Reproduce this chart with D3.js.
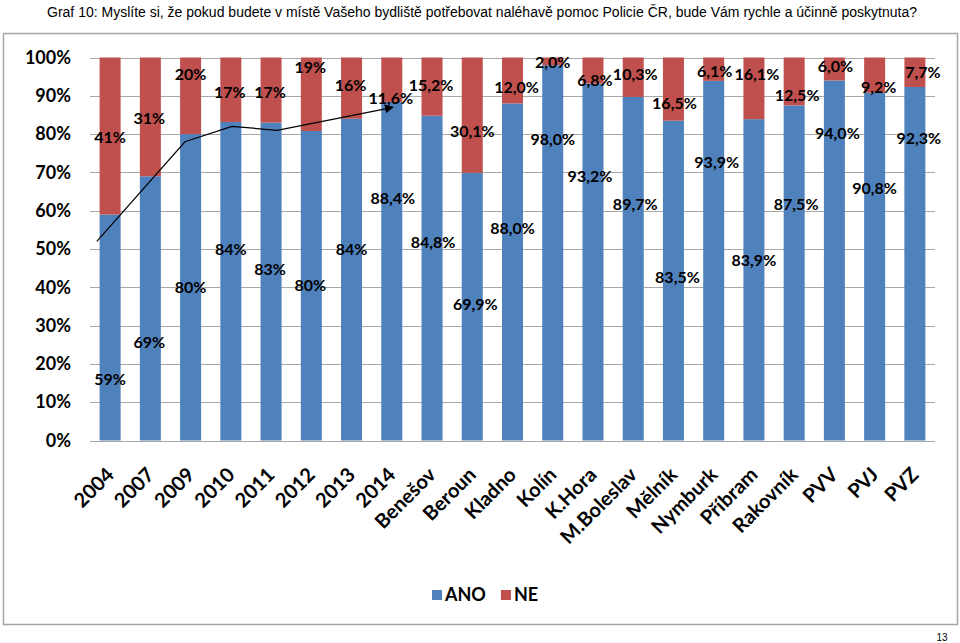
<!DOCTYPE html>
<html>
<head>
<meta charset="utf-8">
<script src="https://cdn.jsdelivr.net/npm/d3@7"></script>
<style>
  html, body { margin: 0; padding: 0; background: #fff; }
  svg { display: block; }
</style>
</head>
<body>
<svg id="chart" width="960" height="643"></svg>
<script>
// ---------- DATA ----------
const title = "Graf 10: Myslíte si, že pokud budete v místě Vašeho bydliště potřebovat naléhavě pomoc Policie ČR, bude Vám rychle a účinně poskytnuta?";
const categories = ["2004","2007","2009","2010","2011","2012","2013","2014","Benešov","Beroun","Kladno","Kolín","K.Hora","M.Boleslav","Mělník","Nymburk","Příbram","Rakovník","PVV","PVJ","PVZ"];
const seriesNames = ["ANO","NE"];
const anoValues = [59,69,80,84,83,80,84,88.4,84.8,69.9,88.0,98.0,93.2,89.7,83.5,93.9,83.9,87.5,94.0,90.8,92.3];
const neValues  = [41,31,20,17,17,19,16,11.6,15.2,30.1,12.0,2.0,6.8,10.3,16.5,6.1,16.1,12.5,6.0,9.2,7.7];
const anoLabels = ["59%","69%","80%","84%","83%","80%","84%","88,4%","84,8%","69,9%","88,0%","98,0%","93,2%","89,7%","83,5%","93,9%","83,9%","87,5%","94,0%","90,8%","92,3%"];
const neLabels  = ["41%","31%","20%","17%","17%","19%","16%","11,6%","15,2%","30,1%","12,0%","2,0%","6,8%","10,3%","16,5%","6,1%","16,1%","12,5%","6,0%","9,2%","7,7%"];
const yTickValues = [0,0.1,0.2,0.3,0.4,0.5,0.6,0.7,0.8,0.9,1.0];
// trend annotation (hand-drawn arrow in the original)
const trendCats   = ["2004","2009","2010","2011","2014"];
const trendValues = [0.52,0.78,0.82,0.81,0.87];

// ---------- LAYOUT (label anchors, value-space y, px nudges) ----------
const anoLabelPos = [0.16,0.255,0.40,0.50,0.448,0.404,0.50,0.633,0.516,0.356,0.555,0.785,0.69,0.617,0.427,0.725,0.471,0.617,0.803,0.659,0.79];
const neLabelPos  = [0.792,0.842,0.955,0.91,0.91,0.973,0.928,0.894,0.928,0.806,0.923,0.988,0.941,0.955,0.881,0.965,0.955,0.90,0.978,0.923,0.96];
const anoLabelDx  = [0,-1,0,0,-1,-1,0,1,1,3,0,0,-3,2,4,3,0,2,3,0,4];
const neLabelDx   = [0,-1,0,-1,-1,-1,-1,-1,-1,0,4,0,2,2,1,1,3,3,1,4,8];
const trendBandFrac = [0.17,0.36,0.53,0.65,0.53];

const colors = {ANO: "#4F81BD", NE: "#C0504D"};
const fontChart = "Lato, 'Open Sans', sans-serif";

// ---------- CHART ----------
const svg = d3.select("#chart");
svg.append("rect").attr("width",960).attr("height",643).attr("fill","#fff");

svg.append("text")
  .attr("x",482).attr("y",17)
  .attr("text-anchor","middle")
  .attr("font-family","'Liberation Sans', Arial, sans-serif")
  .attr("font-size",14)
  .attr("textLength",870).attr("lengthAdjust","spacingAndGlyphs")
  .text(title);

svg.append("rect")
  .attr("x",3.5).attr("y",33.5).attr("width",954).attr("height",591)
  .attr("fill","none").attr("stroke","#a6a6a6").attr("stroke-width",1.5);

svg.append("text")
  .attr("x",942).attr("y",641).attr("text-anchor","middle")
  .attr("font-family","'Liberation Sans', Arial, sans-serif")
  .attr("font-size",10).text("13");

const x = d3.scaleBand().domain(categories).range([90,935]).paddingInner(0.478).paddingOuter(0.239);
const y = d3.scaleLinear().domain([0,1]).range([440.5,57.5]);

// gridlines
svg.append("g").selectAll("line").data(yTickValues).join("line")
  .attr("x1",90).attr("x2",935)
  .attr("y1",d=>Math.round(y(d))+0.5).attr("y2",d=>Math.round(y(d))+0.5)
  .attr("stroke","#a8a8a8").attr("stroke-width",1);

// y axis labels
const yAxis = d3.axisLeft(y).tickValues(yTickValues).tickFormat(d3.format(".0%")).tickSize(0).tickPadding(0);
const gy = svg.append("g").attr("transform","translate(71,0)").call(yAxis);
gy.select(".domain").remove();
gy.selectAll("text").attr("font-family",fontChart).attr("font-weight",700).attr("font-size",18).attr("fill","#000");

// stacked (100%) data
const table = categories.map((c,i)=>({cat:c, ANO:anoValues[i], NE:neValues[i]}));
const stack = d3.stack().keys(seriesNames).offset(d3.stackOffsetExpand);
const layers = stack(table);

svg.append("g").selectAll("g").data(layers).join("g")
  .attr("fill",d=>colors[d.key])
  .selectAll("rect").data(d=>d).join("rect")
  .attr("x",d=>x(d.data.cat))
  .attr("width",x.bandwidth())
  .attr("y",d=>y(d[1]))
  .attr("height",d=>y(d[0])-y(d[1]));

// data labels
const labG = svg.append("g").attr("font-family",fontChart).attr("font-weight",700).attr("font-size",16).attr("fill","#000").attr("text-anchor","middle");
categories.forEach((c,i)=>{
  labG.append("text").attr("x",x(c)+x.bandwidth()/2+anoLabelDx[i]).attr("y",y(anoLabelPos[i])).attr("dy","0.35em").text(anoLabels[i]);
  labG.append("text").attr("x",x(c)+x.bandwidth()/2+neLabelDx[i]).attr("y",y(neLabelPos[i])).attr("dy","0.35em").text(neLabels[i]);
});

// trend arrow
svg.append("defs").append("marker")
  .attr("id","arrow").attr("viewBox","0 0 10 10").attr("refX",9).attr("refY",5)
  .attr("markerWidth",9).attr("markerHeight",9).attr("markerUnits","userSpaceOnUse").attr("orient","auto")
  .append("path").attr("d","M0,0 L10,5 L0,10 z").attr("fill","#000");
const trendPts = trendCats.map((c,i)=>[x(c)-x.step()*x.paddingInner()/2 + x.step()*trendBandFrac[i], y(trendValues[i])]);
svg.append("path").attr("d",d3.line()(trendPts))
  .attr("fill","none").attr("stroke","#000").attr("stroke-width",1.2)
  .attr("marker-end","url(#arrow)");

// x axis labels
const xlG = svg.append("g").attr("font-family",fontChart).attr("font-weight",700).attr("font-size",20).attr("fill","#000");
categories.forEach(c=>{
  const px = x(c)+x.bandwidth()/2+5, py = 476;
  xlG.append("text").attr("text-anchor","end")
    .attr("transform",`translate(${px},${py}) rotate(-45)`).text(c);
});

// legend
const lg = svg.append("g").attr("font-family",fontChart).attr("font-weight",700).attr("font-size",18);
let lx = 432;
seriesNames.forEach(s=>{
  lg.append("rect").attr("x",lx).attr("y",590).attr("width",10).attr("height",10).attr("fill",colors[s]);
  const t = lg.append("text").attr("x",lx+13).attr("y",601).text(s);
  lx += 13 + t.node().getComputedTextLength() + 15;
});
</script>
</body>
</html>
